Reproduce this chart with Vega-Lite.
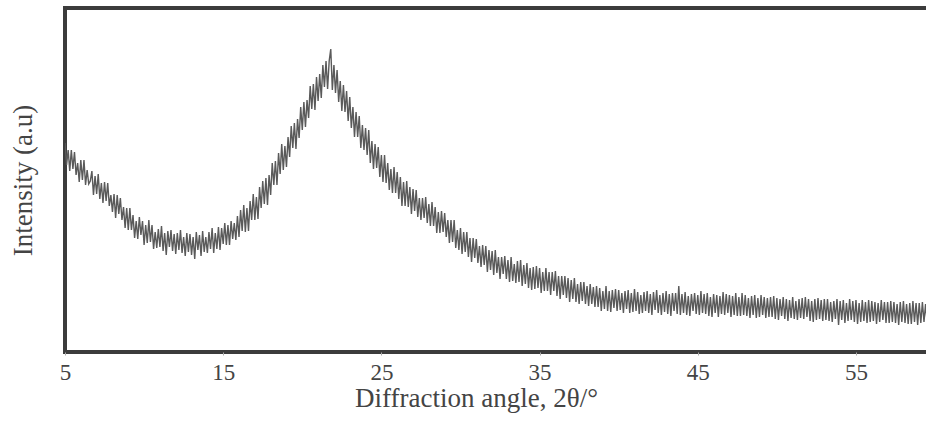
{
  "$schema": "https://vega.github.io/schema/vega-lite/v6.json",
  "width": 865,
  "height": 344,
  "autosize": "none",
  "padding": {"left": 65, "top": 8, "right": 0, "bottom": 74},
  "background": "white",
  "config": {
    "view": {"stroke": "#3c3c3c", "strokeWidth": 4},
    "font": "Liberation Serif"
  },
  "data": {"values": [
    {"a":5.0,"i":209},{"a":5.1,"i":187},{"a":5.2,"i":202},{"a":5.3,"i":181},{"a":5.4,"i":202},
    {"a":5.5,"i":183},{"a":5.6,"i":200},{"a":5.7,"i":177},{"a":5.8,"i":189},{"a":5.9,"i":170},
    {"a":6.0,"i":192},{"a":6.1,"i":172},{"a":6.2,"i":192},{"a":6.3,"i":167},{"a":6.4,"i":182},
    {"a":6.5,"i":168},{"a":6.6,"i":171},{"a":6.7,"i":181},{"a":6.8,"i":157},{"a":6.9,"i":176},
    {"a":7.0,"i":158},{"a":7.1,"i":178},{"a":7.2,"i":153},{"a":7.3,"i":169},{"a":7.4,"i":149},
    {"a":7.5,"i":170},{"a":7.6,"i":151},{"a":7.7,"i":169},{"a":7.8,"i":146},{"a":7.9,"i":157},
    {"a":8.0,"i":140},{"a":8.1,"i":158},{"a":8.2,"i":134},{"a":8.3,"i":157},{"a":8.4,"i":138},
    {"a":8.5,"i":154},{"a":8.6,"i":132},{"a":8.7,"i":145},{"a":8.8,"i":124},{"a":8.9,"i":144},
    {"a":9.0,"i":122},{"a":9.1,"i":144},{"a":9.2,"i":122},{"a":9.3,"i":137},{"a":9.4,"i":114},
    {"a":9.5,"i":131},{"a":9.6,"i":113},{"a":9.7,"i":135},{"a":9.8,"i":117},{"a":9.9,"i":131},
    {"a":10.0,"i":107},{"a":10.1,"i":127},{"a":10.2,"i":109},{"a":10.3,"i":132},{"a":10.4,"i":110},
    {"a":10.5,"i":127},{"a":10.6,"i":103},{"a":10.7,"i":120},{"a":10.8,"i":104},{"a":10.9,"i":123},
    {"a":11.0,"i":105},{"a":11.1,"i":126},{"a":11.2,"i":101},{"a":11.3,"i":119},{"a":11.4,"i":97},
    {"a":11.5,"i":121},{"a":11.6,"i":105},{"a":11.7,"i":122},{"a":11.8,"i":101},{"a":11.9,"i":118},
    {"a":12.0,"i":98},{"a":12.1,"i":119},{"a":12.2,"i":102},{"a":12.3,"i":122},{"a":12.4,"i":99},
    {"a":12.5,"i":115},{"a":12.6,"i":96},{"a":12.7,"i":119},{"a":12.8,"i":100},{"a":12.9,"i":118},
    {"a":13.0,"i":97},{"a":13.1,"i":115},{"a":13.2,"i":93},{"a":13.3,"i":120},{"a":13.4,"i":102},
    {"a":13.5,"i":117},{"a":13.6,"i":96},{"a":13.7,"i":121},{"a":13.8,"i":100},{"a":13.9,"i":115},
    {"a":14.0,"i":99},{"a":14.1,"i":120},{"a":14.2,"i":103},{"a":14.3,"i":124},{"a":14.4,"i":99},
    {"a":14.5,"i":119},{"a":14.6,"i":103},{"a":14.7,"i":125},{"a":14.8,"i":102},{"a":14.9,"i":124},
    {"a":15.0,"i":108},{"a":15.1,"i":129},{"a":15.2,"i":107},{"a":15.3,"i":127},{"a":15.4,"i":107},
    {"a":15.5,"i":131},{"a":15.6,"i":113},{"a":15.7,"i":129},{"a":15.8,"i":112},{"a":15.9,"i":136},
    {"a":16.0,"i":115},{"a":16.1,"i":142},{"a":16.2,"i":121},{"a":16.3,"i":147},{"a":16.4,"i":120},
    {"a":16.5,"i":144},{"a":16.6,"i":121},{"a":16.7,"i":151},{"a":16.8,"i":132},{"a":16.9,"i":158},
    {"a":17.0,"i":132},{"a":17.1,"i":155},{"a":17.2,"i":133},{"a":17.3,"i":165},{"a":17.4,"i":144},
    {"a":17.5,"i":171},{"a":17.6,"i":148},{"a":17.7,"i":174},{"a":17.8,"i":147},{"a":17.9,"i":177},
    {"a":18.0,"i":157},{"a":18.1,"i":189},{"a":18.2,"i":167},{"a":18.3,"i":191},{"a":18.4,"i":167},
    {"a":18.5,"i":199},{"a":18.6,"i":178},{"a":18.7,"i":208},{"a":18.8,"i":182},{"a":18.9,"i":206},
    {"a":19.0,"i":185},{"a":19.1,"i":215},{"a":19.2,"i":195},{"a":19.3,"i":226},{"a":19.4,"i":204},
    {"a":19.5,"i":229},{"a":19.6,"i":203},{"a":19.7,"i":233},{"a":19.8,"i":214},{"a":19.9,"i":245},
    {"a":20.0,"i":222},{"a":20.1,"i":250},{"a":20.2,"i":225},{"a":20.3,"i":252},{"a":20.4,"i":234},
    {"a":20.5,"i":266},{"a":20.6,"i":243},{"a":20.7,"i":268},{"a":20.8,"i":242},{"a":20.9,"i":275},
    {"a":21.0,"i":251},{"a":21.1,"i":278},{"a":21.2,"i":254},{"a":21.3,"i":287},{"a":21.4,"i":265},
    {"a":21.5,"i":291},{"a":21.6,"i":263},{"a":21.7,"i":291},{"a":21.8,"i":303},{"a":21.9,"i":262},
    {"a":22.0,"i":287},{"a":22.1,"i":259},{"a":22.2,"i":282},{"a":22.3,"i":250},{"a":22.4,"i":271},
    {"a":22.5,"i":241},{"a":22.6,"i":267},{"a":22.7,"i":240},{"a":22.8,"i":261},{"a":22.9,"i":231},
    {"a":23.0,"i":255},{"a":23.1,"i":224},{"a":23.2,"i":245},{"a":23.3,"i":215},{"a":23.4,"i":240},
    {"a":23.5,"i":215},{"a":23.6,"i":236},{"a":23.7,"i":204},{"a":23.8,"i":227},{"a":23.9,"i":202},
    {"a":24.0,"i":224},{"a":24.1,"i":197},{"a":24.2,"i":222},{"a":24.3,"i":189},{"a":24.4,"i":211},
    {"a":24.5,"i":183},{"a":24.6,"i":208},{"a":24.7,"i":184},{"a":24.8,"i":205},{"a":24.9,"i":175},
    {"a":25.0,"i":197},{"a":25.1,"i":170},{"a":25.2,"i":197},{"a":25.3,"i":169},{"a":25.4,"i":189},
    {"a":25.5,"i":162},{"a":25.6,"i":183},{"a":25.7,"i":159},{"a":25.8,"i":185},{"a":25.9,"i":159},
    {"a":26.0,"i":180},{"a":26.1,"i":153},{"a":26.2,"i":175},{"a":26.3,"i":146},{"a":26.4,"i":170},
    {"a":26.5,"i":146},{"a":26.6,"i":171},{"a":26.7,"i":145},{"a":26.8,"i":165},{"a":26.9,"i":138},
    {"a":27.0,"i":163},{"a":27.1,"i":141},{"a":27.2,"i":162},{"a":27.3,"i":135},{"a":27.4,"i":154},
    {"a":27.5,"i":132},{"a":27.6,"i":154},{"a":27.7,"i":134},{"a":27.8,"i":155},{"a":27.9,"i":129},
    {"a":28.0,"i":148},{"a":28.1,"i":126},{"a":28.2,"i":150},{"a":28.3,"i":126},{"a":28.4,"i":145},
    {"a":28.5,"i":119},{"a":28.6,"i":140},{"a":28.7,"i":119},{"a":28.8,"i":141},{"a":28.9,"i":120},
    {"a":29.0,"i":139},{"a":29.1,"i":115},{"a":29.2,"i":132},{"a":29.3,"i":109},{"a":29.4,"i":132},
    {"a":29.5,"i":110},{"a":29.6,"i":132},{"a":29.7,"i":104},{"a":29.8,"i":122},{"a":29.9,"i":102},
    {"a":30.0,"i":124},{"a":30.1,"i":98},{"a":30.2,"i":120},{"a":30.3,"i":100},{"a":30.4,"i":120},
    {"a":30.5,"i":95},{"a":30.6,"i":114},{"a":30.7,"i":90},{"a":30.8,"i":114},{"a":30.9,"i":94},
    {"a":31.0,"i":113},{"a":31.1,"i":89},{"a":31.2,"i":106},{"a":31.3,"i":85},{"a":31.4,"i":107},
    {"a":31.5,"i":87},{"a":31.6,"i":106},{"a":31.7,"i":80},{"a":31.8,"i":102},{"a":31.9,"i":82},
    {"a":32.0,"i":101},{"a":32.1,"i":77},{"a":32.2,"i":102},{"a":32.3,"i":79},{"a":32.4,"i":95},
    {"a":32.5,"i":73},{"a":32.6,"i":95},{"a":32.7,"i":78},{"a":32.8,"i":96},{"a":32.9,"i":73},
    {"a":33.0,"i":92},{"a":33.1,"i":70},{"a":33.2,"i":95},{"a":33.3,"i":71},{"a":33.4,"i":88},
    {"a":33.5,"i":69},{"a":33.6,"i":91},{"a":33.7,"i":70},{"a":33.8,"i":92},{"a":33.9,"i":66},
    {"a":34.0,"i":87},{"a":34.1,"i":68},{"a":34.2,"i":89},{"a":34.3,"i":64},{"a":34.4,"i":84},
    {"a":34.5,"i":62},{"a":34.6,"i":85},{"a":34.7,"i":63},{"a":34.8,"i":86},{"a":34.9,"i":64},
    {"a":35.0,"i":84},{"a":35.1,"i":59},{"a":35.2,"i":80},{"a":35.3,"i":61},{"a":35.4,"i":84},
    {"a":35.5,"i":61},{"a":35.6,"i":80},{"a":35.7,"i":57},{"a":35.8,"i":80},{"a":35.9,"i":61},
    {"a":36.0,"i":81},{"a":36.1,"i":56},{"a":36.2,"i":76},{"a":36.3,"i":53},{"a":36.4,"i":76},
    {"a":36.5,"i":57},{"a":36.6,"i":76},{"a":36.7,"i":54},{"a":36.8,"i":74},{"a":36.9,"i":50},
    {"a":37.0,"i":72},{"a":37.1,"i":53},{"a":37.2,"i":74},{"a":37.3,"i":50},{"a":37.4,"i":68},
    {"a":37.5,"i":48},{"a":37.6,"i":70},{"a":37.7,"i":51},{"a":37.8,"i":70},{"a":37.9,"i":48},
    {"a":38.0,"i":66},{"a":38.1,"i":46},{"a":38.2,"i":68},{"a":38.3,"i":48},{"a":38.4,"i":65},
    {"a":38.5,"i":45},{"a":38.6,"i":66},{"a":38.7,"i":45},{"a":38.8,"i":64},{"a":38.9,"i":41},
    {"a":39.0,"i":61},{"a":39.1,"i":43},{"a":39.2,"i":66},{"a":39.3,"i":41},{"a":39.4,"i":61},
    {"a":39.5,"i":40},{"a":39.6,"i":62},{"a":39.7,"i":44},{"a":39.8,"i":63},{"a":39.9,"i":41},
    {"a":40.0,"i":62},{"a":40.1,"i":42},{"a":40.2,"i":59},{"a":40.3,"i":39},{"a":40.4,"i":61},
    {"a":40.5,"i":43},{"a":40.6,"i":62},{"a":40.7,"i":39},{"a":40.8,"i":59},{"a":40.9,"i":40},
    {"a":41.0,"i":63},{"a":41.1,"i":41},{"a":41.2,"i":60},{"a":41.3,"i":38},{"a":41.4,"i":57},
    {"a":41.5,"i":39},{"a":41.6,"i":60},{"a":41.7,"i":41},{"a":41.8,"i":61},{"a":41.9,"i":39},
    {"a":42.0,"i":58},{"a":42.1,"i":37},{"a":42.2,"i":60},{"a":42.3,"i":42},{"a":42.4,"i":62},
    {"a":42.5,"i":39},{"a":42.6,"i":57},{"a":42.7,"i":37},{"a":42.8,"i":59},{"a":42.9,"i":40},
    {"a":43.0,"i":61},{"a":43.1,"i":38},{"a":43.2,"i":58},{"a":43.3,"i":36},{"a":43.4,"i":59},
    {"a":43.5,"i":41},{"a":43.6,"i":59},{"a":43.7,"i":38},{"a":43.8,"i":66},{"a":43.9,"i":37},
    {"a":44.0,"i":58},{"a":44.1,"i":39},{"a":44.2,"i":60},{"a":44.3,"i":37},{"a":44.4,"i":56},
    {"a":44.5,"i":36},{"a":44.6,"i":58},{"a":44.7,"i":41},{"a":44.8,"i":59},{"a":44.9,"i":38},
    {"a":45.0,"i":57},{"a":45.1,"i":37},{"a":45.2,"i":61},{"a":45.3,"i":39},{"a":45.4,"i":58},
    {"a":45.5,"i":38},{"a":45.6,"i":59},{"a":45.7,"i":36},{"a":45.8,"i":55},{"a":45.9,"i":35},
    {"a":46.0,"i":58},{"a":46.1,"i":39},{"a":46.2,"i":57},{"a":46.3,"i":35},{"a":46.4,"i":56},
    {"a":46.5,"i":38},{"a":46.6,"i":60},{"a":46.7,"i":37},{"a":46.8,"i":58},{"a":46.9,"i":39},
    {"a":47.0,"i":57},{"a":47.1,"i":35},{"a":47.2,"i":56},{"a":47.3,"i":37},{"a":47.4,"i":59},
    {"a":47.5,"i":36},{"a":47.6,"i":55},{"a":47.7,"i":36},{"a":47.8,"i":59},{"a":47.9,"i":37},
    {"a":48.0,"i":57},{"a":48.1,"i":36},{"a":48.2,"i":54},{"a":48.3,"i":34},{"a":48.4,"i":56},
    {"a":48.5,"i":37},{"a":48.6,"i":57},{"a":48.7,"i":34},{"a":48.8,"i":54},{"a":48.9,"i":35},
    {"a":49.0,"i":57},{"a":49.1,"i":37},{"a":49.2,"i":55},{"a":49.3,"i":34},{"a":49.4,"i":54},
    {"a":49.5,"i":35},{"a":49.6,"i":55},{"a":49.7,"i":35},{"a":49.8,"i":56},{"a":49.9,"i":33},
    {"a":50.0,"i":54},{"a":50.1,"i":32},{"a":50.2,"i":53},{"a":50.3,"i":36},{"a":50.4,"i":55},
    {"a":50.5,"i":33},{"a":50.6,"i":53},{"a":50.7,"i":31},{"a":50.8,"i":52},{"a":50.9,"i":34},
    {"a":51.0,"i":55},{"a":51.1,"i":33},{"a":51.2,"i":51},{"a":51.3,"i":32},{"a":51.4,"i":53},
    {"a":51.5,"i":34},{"a":51.6,"i":54},{"a":51.7,"i":33},{"a":51.8,"i":55},{"a":51.9,"i":35},
    {"a":52.0,"i":53},{"a":52.1,"i":31},{"a":52.2,"i":51},{"a":52.3,"i":30},{"a":52.4,"i":53},
    {"a":52.5,"i":32},{"a":52.6,"i":54},{"a":52.7,"i":33},{"a":52.8,"i":52},{"a":52.9,"i":31},
    {"a":53.0,"i":53},{"a":53.1,"i":32},{"a":53.2,"i":53},{"a":53.3,"i":31},{"a":53.4,"i":50},
    {"a":53.5,"i":30},{"a":53.6,"i":51},{"a":53.7,"i":33},{"a":53.8,"i":53},{"a":53.9,"i":27},
    {"a":54.0,"i":51},{"a":54.1,"i":32},{"a":54.2,"i":52},{"a":54.3,"i":29},{"a":54.4,"i":49},
    {"a":54.5,"i":31},{"a":54.6,"i":53},{"a":54.7,"i":32},{"a":54.8,"i":51},{"a":54.9,"i":30},
    {"a":55.0,"i":52},{"a":55.1,"i":28},{"a":55.2,"i":49},{"a":55.3,"i":30},{"a":55.4,"i":52},
    {"a":55.5,"i":31},{"a":55.6,"i":50},{"a":55.7,"i":29},{"a":55.8,"i":52},{"a":55.9,"i":30},
    {"a":56.0,"i":51},{"a":56.1,"i":31},{"a":56.2,"i":50},{"a":56.3,"i":28},{"a":56.4,"i":49},
    {"a":56.5,"i":30},{"a":56.6,"i":52},{"a":56.7,"i":32},{"a":56.8,"i":50},{"a":56.9,"i":29},
    {"a":57.0,"i":50},{"a":57.1,"i":29},{"a":57.2,"i":51},{"a":57.3,"i":30},{"a":57.4,"i":50},
    {"a":57.5,"i":29},{"a":57.6,"i":48},{"a":57.7,"i":27},{"a":57.8,"i":50},{"a":57.9,"i":30},
    {"a":58.0,"i":51},{"a":58.1,"i":29},{"a":58.2,"i":48},{"a":58.3,"i":28},{"a":58.4,"i":49},
    {"a":58.5,"i":28},{"a":58.6,"i":51},{"a":58.7,"i":30},{"a":58.8,"i":49},{"a":58.9,"i":27},
    {"a":59.0,"i":49},{"a":59.1,"i":29},{"a":59.2,"i":50},{"a":59.3,"i":30},{"a":59.4,"i":48},
    {"a":59.5,"i":29},{"a":59.6,"i":50},{"a":59.7,"i":30}
  ]},
  "mark": {"type": "line", "color": "#5a5a5a", "strokeWidth": 1.4, "clip": true},
  "encoding": {
    "x": {
      "field": "a", "type": "quantitative",
      "scale": {"domain": [5, 59.68], "nice": false, "zero": false},
      "axis": {
        "values": [5, 15, 25, 35, 45, 55],
        "domain": false, "grid": false,
        "ticks": true, "tickSize": 3, "tickColor": "#aaaaaa",
        "labelFont": "Liberation Serif", "labelFontSize": 23, "labelColor": "#444444",
        "labelPadding": 6, "labelFlush": false,
        "title": "Diffraction angle, 2θ/°",
        "titleFont": "Liberation Serif", "titleFontSize": 27, "titleFontWeight": "normal",
        "titleColor": "#444444", "titlePadding": 1, "titleX": 411
      }
    },
    "y": {
      "field": "i", "type": "quantitative",
      "scale": {"domain": [0, 344], "nice": false, "zero": false},
      "axis": {
        "domain": false, "grid": false, "ticks": false, "labels": false,
        "title": "Intensity (a.u)",
        "titleFont": "Liberation Serif", "titleFontSize": 27, "titleFontWeight": "normal",
        "titleColor": "#444444", "titlePadding": 28
      }
    }
  }
}
